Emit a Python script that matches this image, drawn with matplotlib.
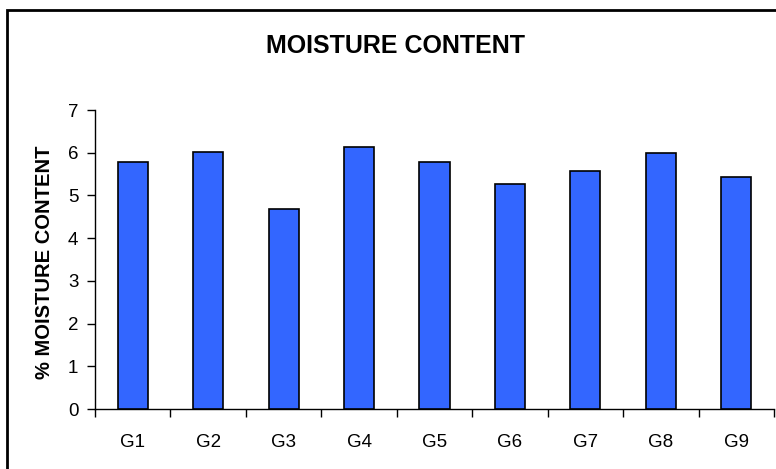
import matplotlib
matplotlib.use("Agg")
import matplotlib.pyplot as plt
from matplotlib.patches import Rectangle

categories = ["G1", "G2", "G3", "G4", "G5", "G6", "G7", "G8", "G9"]
moisture = [5.78, 6.02, 4.68, 6.13, 5.78, 5.27, 5.57, 5.99, 5.43]

plt.rcParams["font.family"] = ["Liberation Sans", "DejaVu Sans"]

fig = plt.figure(figsize=(7.76, 4.69), dpi=100)
ax = fig.add_axes([0.1224, 0.1279, 0.875, 0.6375])

x = list(range(len(categories)))
ax.bar(x, moisture, width=0.4, color="#3366FF", edgecolor="black", linewidth=1.2, zorder=3)

ax.set_xlim(-0.5, len(categories) - 0.5)
ax.set_ylim(0, 7)
ax.set_yticks(range(0, 8))
ax.tick_params(axis="y", direction="out", length=6, width=1, labelsize=13.5, pad=6)

# category boundaries get the ticks, labels sit in the middle
ax.set_xticks([i - 0.5 for i in range(len(categories) + 1)])
ax.set_xticklabels([])
ax.tick_params(axis="x", which="major", direction="out", length=6, width=1)
ax.set_xticks(x, minor=True)
ax.set_xticklabels(categories, minor=True)
ax.tick_params(axis="x", which="minor", length=0, labelsize=13.5, pad=18)

for s in ["top", "right"]:
    ax.spines[s].set_visible(False)
ax.spines["left"].set_linewidth(1)
ax.spines["bottom"].set_linewidth(1)

ax.set_ylabel("% MOISTURE CONTENT", fontsize=14.5, fontweight="bold")
ax.yaxis.set_label_coords(-0.06, 0.49)
fig.text(0.51, 0.902, "MOISTURE CONTENT", ha="center", va="center", fontsize=18, fontweight="bold")

# outer chart frame (cut off at right and bottom)
fig.patches.append(Rectangle((7 / 776, -0.1), 1.2, 1 - 10 / 469 + 0.1, transform=fig.transFigure,
                             fill=False, edgecolor="black", linewidth=2))

fig.savefig("out.png", dpi=100)
